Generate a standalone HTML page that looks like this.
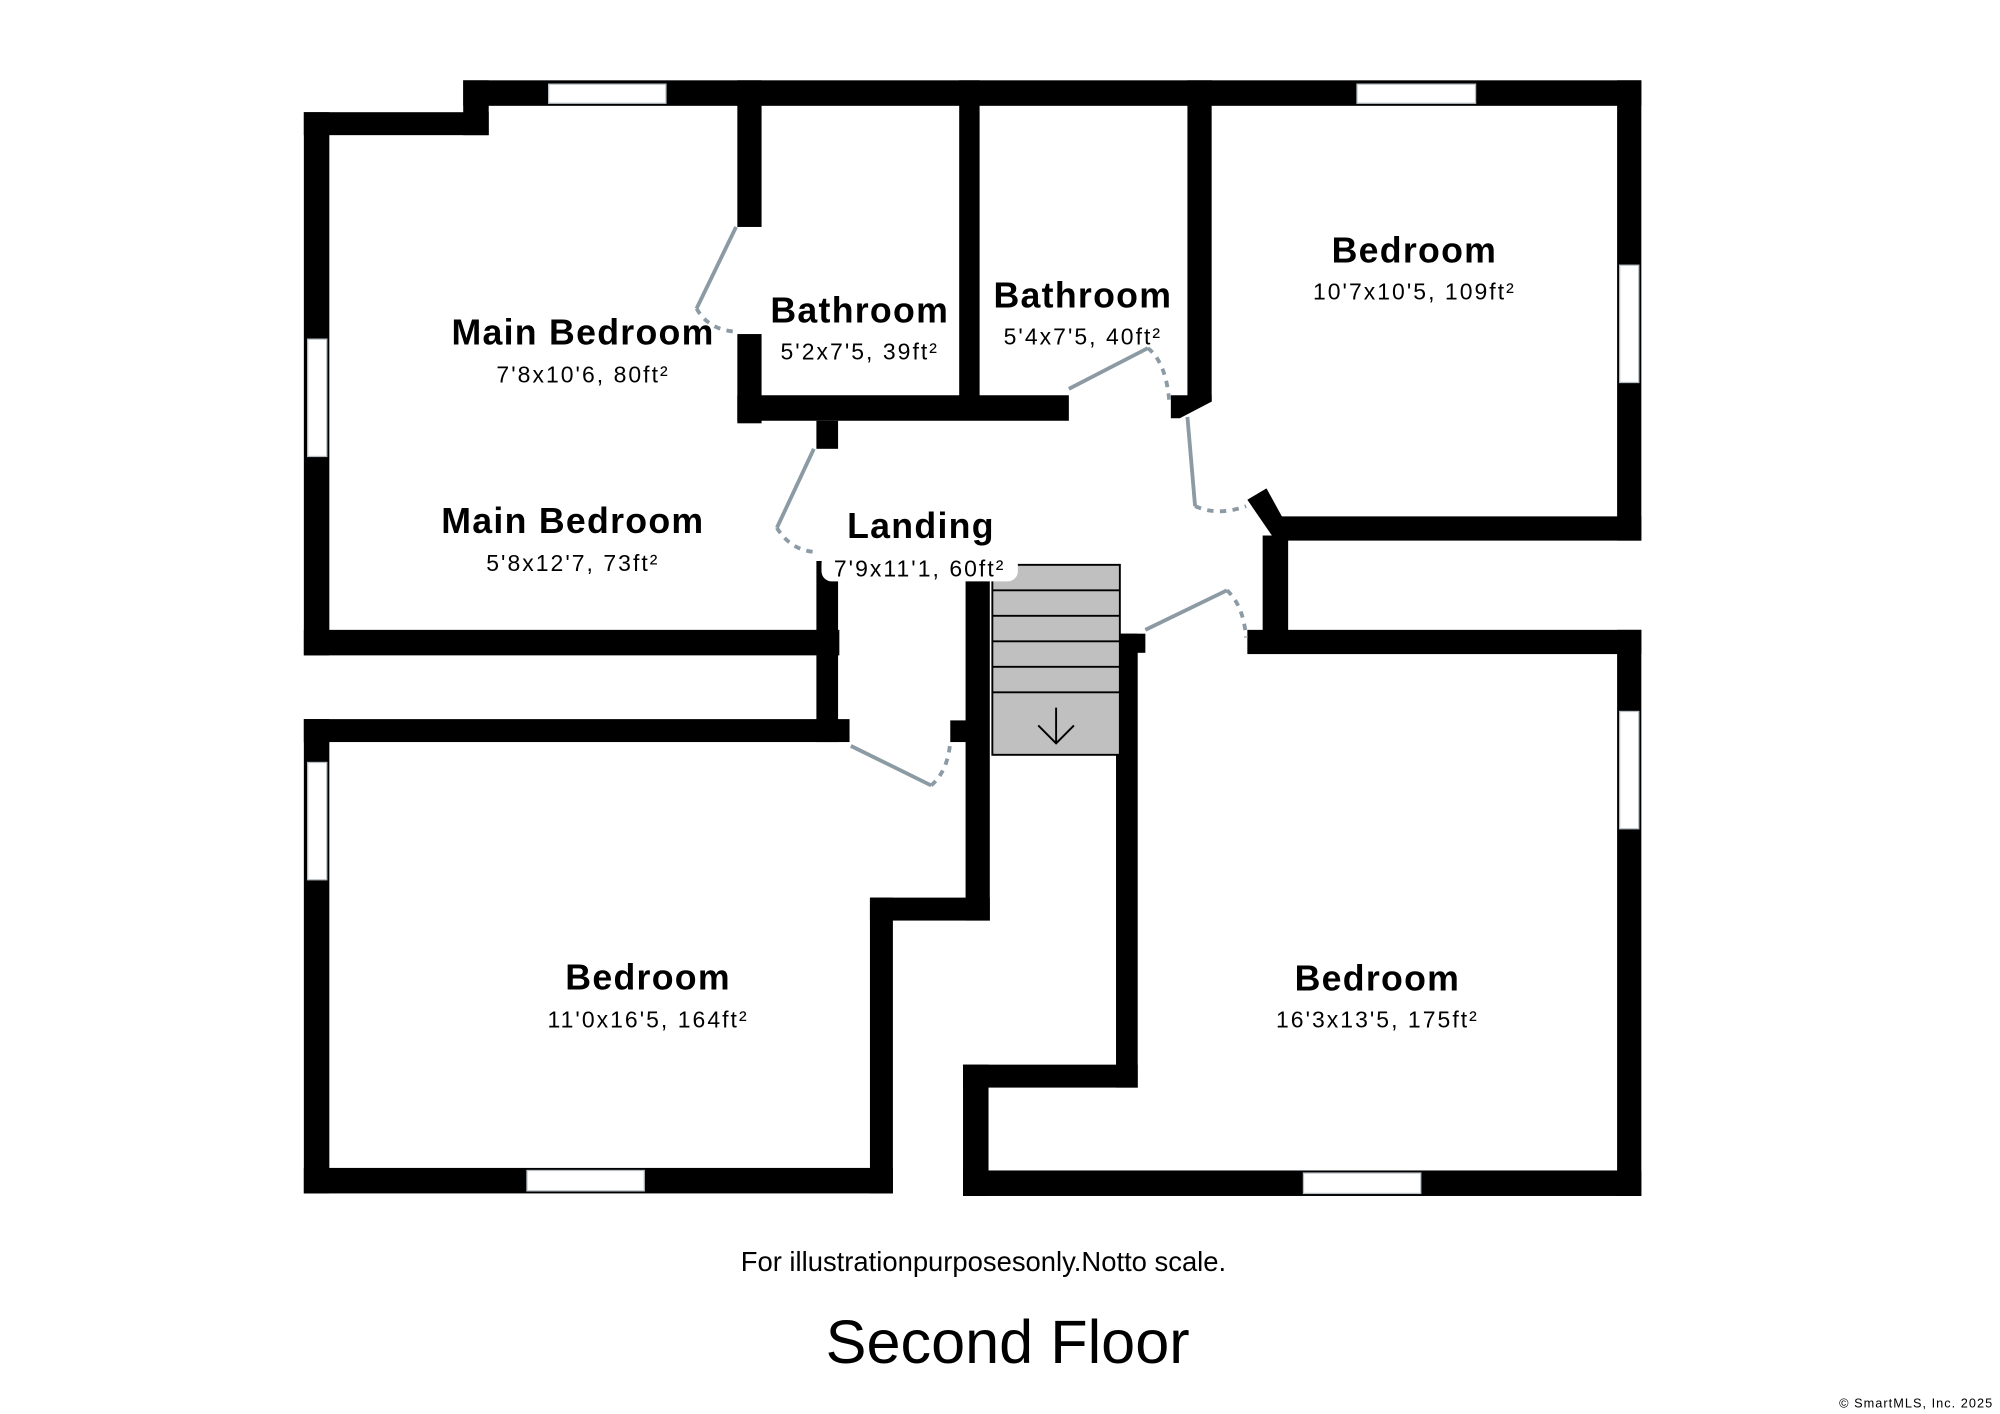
<!DOCTYPE html>
<html><head><style>
html,body{margin:0;padding:0;background:#fff;}
svg{display:block;}
text{font-family:"Liberation Sans",sans-serif;fill:#000;}
.t{font-weight:bold;font-size:28px;text-anchor:middle;letter-spacing:1px;}
.d{font-size:18px;text-anchor:middle;letter-spacing:1.6px;}
</style></head><body>
<svg width="2000" height="1414" viewBox="0 0 1568 1109" xmlns="http://www.w3.org/2000/svg">
<g fill="#000">
<rect x="363" y="63" width="924" height="20"/>
<rect x="238" y="88" width="145" height="18"/>
<rect x="363" y="63" width="20" height="43"/>
<rect x="238" y="88" width="20" height="426"/>
<rect x="238" y="494" width="420" height="20"/>
<rect x="640" y="440" width="17" height="142"/>
<rect x="238" y="564" width="428" height="18"/>
<rect x="238" y="564" width="20" height="372"/>
<rect x="238" y="916" width="462" height="20"/>
<rect x="682" y="704" width="18" height="232"/>
<rect x="682" y="704" width="94" height="18"/>
<rect x="757" y="455" width="19" height="267"/>
<rect x="745" y="565" width="14" height="17"/>
<rect x="578" y="63" width="19" height="115"/>
<rect x="578" y="262" width="19" height="70"/>
<rect x="578" y="310" width="260" height="20"/>
<rect x="640" y="330" width="17" height="22"/>
<rect x="752" y="63" width="16" height="250"/>
<rect x="931" y="63" width="19" height="252"/>
<polygon points="931,310 950,310 950,315 925,328 918,328 918,310"/>
<rect x="1268" y="63" width="19" height="361"/>
<rect x="1000" y="405" width="287" height="19"/>
<polygon points="978,392 993,383 1010,414 1010,424 1000,424"/>
<rect x="990" y="420" width="20" height="77"/>
<rect x="978" y="494" width="309" height="19"/>
<rect x="1268" y="494" width="19" height="444"/>
<rect x="755" y="918" width="532" height="20"/>
<rect x="755" y="835" width="20" height="103"/>
<rect x="755" y="835" width="137" height="18"/>
<rect x="875" y="497" width="17" height="356"/>
<rect x="878" y="497" width="20" height="15"/>
</g>
<g fill="#fff" stroke="#b8c0c6" stroke-width="1">
<rect x="430" y="66" width="92" height="15"/>
<rect x="1064" y="66" width="93" height="15"/>
<rect x="241" y="266" width="15" height="92"/>
<rect x="241" y="598" width="15" height="92"/>
<rect x="413" y="918" width="92" height="16"/>
<rect x="1270" y="208" width="15" height="92"/>
<rect x="1270" y="558" width="15" height="92"/>
<rect x="1022" y="920" width="92" height="16"/>
</g>
<rect x="778" y="443" width="100" height="149" fill="#c0c0c0" stroke="#000" stroke-width="1.5"/>
<g stroke="#000" stroke-width="1.5">
<line x1="778" y1="463" x2="878" y2="463"/><line x1="778" y1="483" x2="878" y2="483"/>
<line x1="778" y1="503" x2="878" y2="503"/><line x1="778" y1="523" x2="878" y2="523"/>
<line x1="778" y1="543" x2="878" y2="543"/>
<polyline points="828,555 828,583" fill="none"/><polyline points="814,569 828,583 842,569" fill="none"/>
</g>
<g stroke="#8c9aa4" stroke-width="3" fill="none">
<line x1="577" y1="178" x2="546" y2="242"/>
<path d="M546,242 Q555,258 575,260" stroke-dasharray="5,5"/>
<line x1="638" y1="352" x2="609" y2="414"/>
<path d="M609,414 Q620,432 640,433" stroke-dasharray="5,5"/>
<line x1="838" y1="305" x2="900" y2="273"/>
<path d="M900,273 Q915,285 917,318" stroke-dasharray="5,5"/>
<line x1="931" y1="327" x2="937" y2="397"/>
<path d="M937,397 Q955,405 977,397" stroke-dasharray="5,5"/>
<line x1="898" y1="494" x2="962" y2="463"/>
<path d="M962,463 Q975,475 977,500" stroke-dasharray="5,5"/>
<line x1="667" y1="585" x2="730" y2="616"/>
<path d="M730,616 Q743,605 745,582" stroke-dasharray="5,5"/>
</g>
<text class="t" x="457" y="270">Main Bedroom</text>
<text class="d" x="457" y="300">7'8x10'6, 80ft²</text>
<text class="t" x="449" y="418">Main Bedroom</text>
<text class="d" x="449" y="448">5'8x12'7, 73ft²</text>
<text class="t" x="674" y="253">Bathroom</text>
<text class="d" x="674" y="282">5'2x7'5, 39ft²</text>
<text class="t" x="849" y="241">Bathroom</text>
<text class="d" x="849" y="270">5'4x7'5, 40ft²</text>
<text class="t" x="1109" y="206">Bedroom</text>
<text class="d" x="1109" y="235">10'7x10'5, 109ft²</text>
<text class="t" x="722" y="422">Landing</text>
<rect x="644" y="434" width="154" height="22" rx="8" fill="#fff"/>
<text class="d" x="721" y="452">7'9x11'1, 60ft²</text>
<text class="t" x="508" y="776">Bedroom</text>
<text class="d" x="508" y="806">11'0x16'5, 164ft²</text>
<text class="t" x="1080" y="777">Bedroom</text>
<text class="d" x="1080" y="806">16'3x13'5, 175ft²</text>
<text x="771" y="997" font-size="21.5" text-anchor="middle">For illustrationpurposesonly.Notto scale.</text>
<text x="790" y="1069" font-size="48" text-anchor="middle">Second Floor</text>
<text x="1563" y="1104" font-size="10" text-anchor="end" fill="#555" letter-spacing="0.8">© SmartMLS, Inc.  2025</text>
</svg>
</body></html>
